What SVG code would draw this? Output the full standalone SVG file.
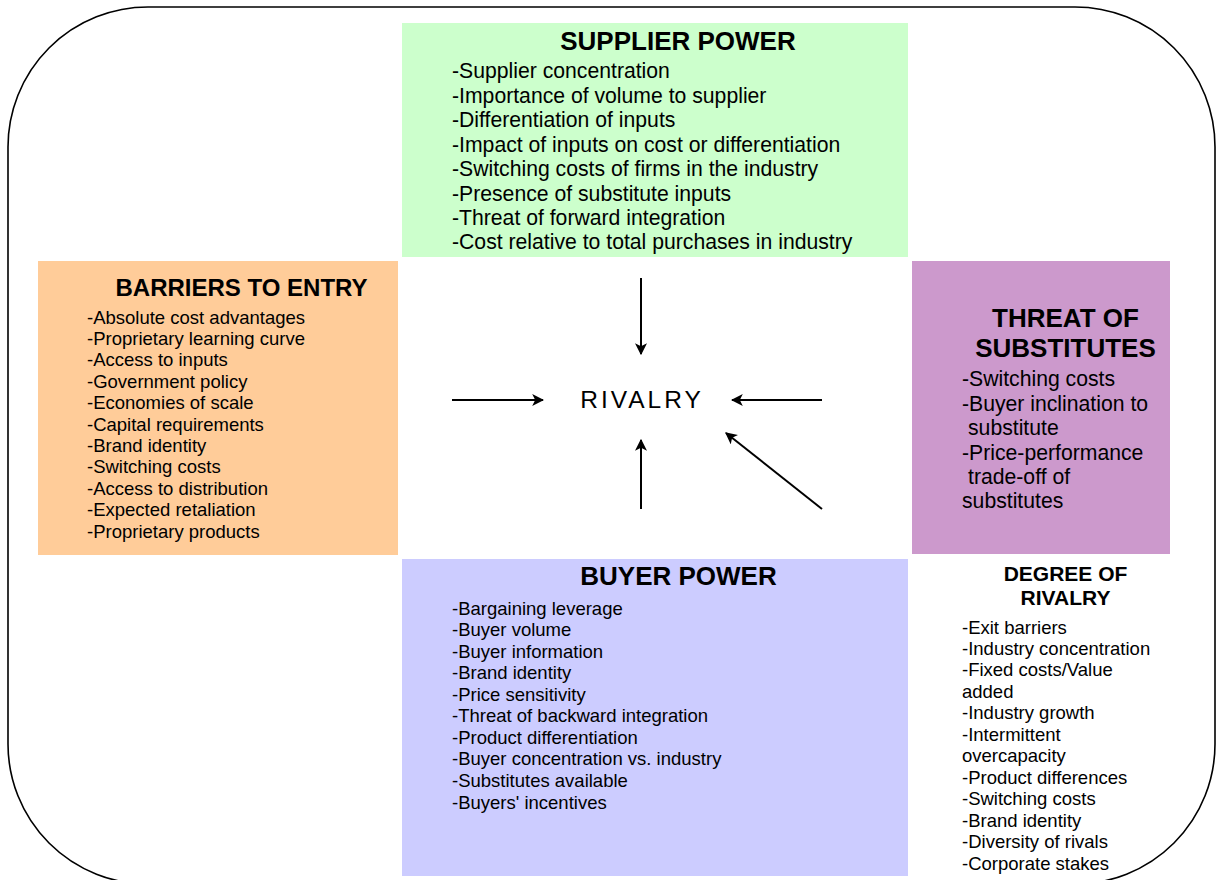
<svg xmlns="http://www.w3.org/2000/svg" width="1217" height="880" viewBox="0 0 1217 880">
<style>
text{font-family:"Liberation Sans",Arial,sans-serif;fill:#000}
.t{font-weight:bold;text-anchor:middle}
.i21{font-size:21.2px}
.i18{font-size:18.5px}
.ar{stroke:#000;stroke-width:2;fill:none;marker-end:url(#ah)}
</style>
<defs>
<marker id="ah" viewBox="0 0 10 10" refX="9" refY="5" markerWidth="6" markerHeight="6" markerUnits="strokeWidth" orient="auto">
<path d="M0,0 L10,5 L0,10 L2.5,5 Z" fill="#000"/>
</marker>
</defs>
<rect width="1217" height="880" fill="#fff"/>
<rect id="frame" x="8" y="7" width="1207" height="877" rx="140" ry="140" fill="none" stroke="#000" stroke-width="1.6"/>

<g id="supplier-power">
<rect x="402" y="23" width="506" height="234" fill="#ccffcc"/>
<text class="t" x="678" y="50.4" font-size="26">SUPPLIER POWER</text>
<g class="i21">
<text x="452" y="78.4">-Supplier concentration</text>
<text x="452" y="102.8">-Importance of volume to supplier</text>
<text x="452" y="127.3">-Differentiation of inputs</text>
<text x="452" y="151.7">-Impact of inputs on cost or differentiation</text>
<text x="452" y="176.1">-Switching costs of firms in the industry</text>
<text x="452" y="200.6">-Presence of substitute inputs</text>
<text x="452" y="225">-Threat of forward integration</text>
<text x="452" y="249.4">-Cost relative to total purchases in industry</text>
</g>
</g>

<g id="barriers-to-entry">
<rect x="38" y="261" width="360" height="294" fill="#ffcc99"/>
<text class="t" x="241.5" y="295.6" font-size="24">BARRIERS TO ENTRY</text>
<g class="i18">
<text x="87" y="323.5">-Absolute cost advantages</text>
<text x="87" y="344.9">-Proprietary learning curve</text>
<text x="87" y="366.3">-Access to inputs</text>
<text x="87" y="387.7">-Government policy</text>
<text x="87" y="409.1">-Economies of scale</text>
<text x="87" y="430.5">-Capital requirements</text>
<text x="87" y="451.9">-Brand identity</text>
<text x="87" y="473.3">-Switching costs</text>
<text x="87" y="494.7">-Access to distribution</text>
<text x="87" y="516.1">-Expected retaliation</text>
<text x="87" y="537.5">-Proprietary products</text>
</g>
</g>

<g id="threat-of-substitutes">
<rect x="912" y="261" width="258" height="293" fill="#cc99cc"/>
<text class="t" x="1065.5" y="327.4" font-size="26">THREAT OF</text>
<text class="t" x="1065.5" y="357.4" font-size="26">SUBSTITUTES</text>
<g class="i21">
<text x="962" y="386.4">-Switching costs</text>
<text x="962" y="410.8">-Buyer inclination to</text>
<text x="968" y="435.2">substitute</text>
<text x="962" y="459.6">-Price-performance</text>
<text x="968" y="484">trade-off of</text>
<text x="962" y="508.4">substitutes</text>
</g>
</g>

<g id="buyer-power">
<rect x="402" y="559" width="506" height="317" fill="#ccccff"/>
<text class="t" x="678.5" y="585.4" font-size="26">BUYER POWER</text>
<g class="i18">
<text x="452" y="614.5">-Bargaining leverage</text>
<text x="452" y="636.1">-Buyer volume</text>
<text x="452" y="657.6">-Buyer information</text>
<text x="452" y="679.2">-Brand identity</text>
<text x="452" y="700.7">-Price sensitivity</text>
<text x="452" y="722.3">-Threat of backward integration</text>
<text x="452" y="743.9">-Product differentiation</text>
<text x="452" y="765.4">-Buyer concentration vs. industry</text>
<text x="452" y="787">-Substitutes available</text>
<text x="452" y="808.5">-Buyers' incentives</text>
</g>
</g>

<g id="degree-of-rivalry">
<text class="t" x="1065.5" y="580.5" font-size="21">DEGREE OF</text>
<text class="t" x="1065.5" y="604.5" font-size="21">RIVALRY</text>
<g class="i18">
<text x="962" y="633.5">-Exit barriers</text>
<text x="962" y="655">-Industry concentration</text>
<text x="962" y="676.4">-Fixed costs/Value</text>
<text x="962" y="697.9">added</text>
<text x="962" y="719.3">-Industry growth</text>
<text x="962" y="740.8">-Intermittent</text>
<text x="962" y="762.2">overcapacity</text>
<text x="962" y="783.7">-Product differences</text>
<text x="962" y="805.1">-Switching costs</text>
<text x="962" y="826.6">-Brand identity</text>
<text x="962" y="848">-Diversity of rivals</text>
<text x="962" y="869.5">-Corporate stakes</text>
</g>
</g>

<g id="rivalry">
<text x="642" y="407.5" font-size="24.5" letter-spacing="3" text-anchor="middle">RIVALRY</text>
</g>

<g id="connectors">
<line class="ar" x1="641" y1="278" x2="641" y2="354"/>
<line class="ar" x1="452" y1="400" x2="543" y2="400"/>
<line class="ar" x1="822" y1="400" x2="732" y2="400"/>
<line class="ar" x1="641" y1="509" x2="641" y2="440"/>
<line class="ar" x1="822" y1="509" x2="726" y2="433"/>
</g>
</svg>
